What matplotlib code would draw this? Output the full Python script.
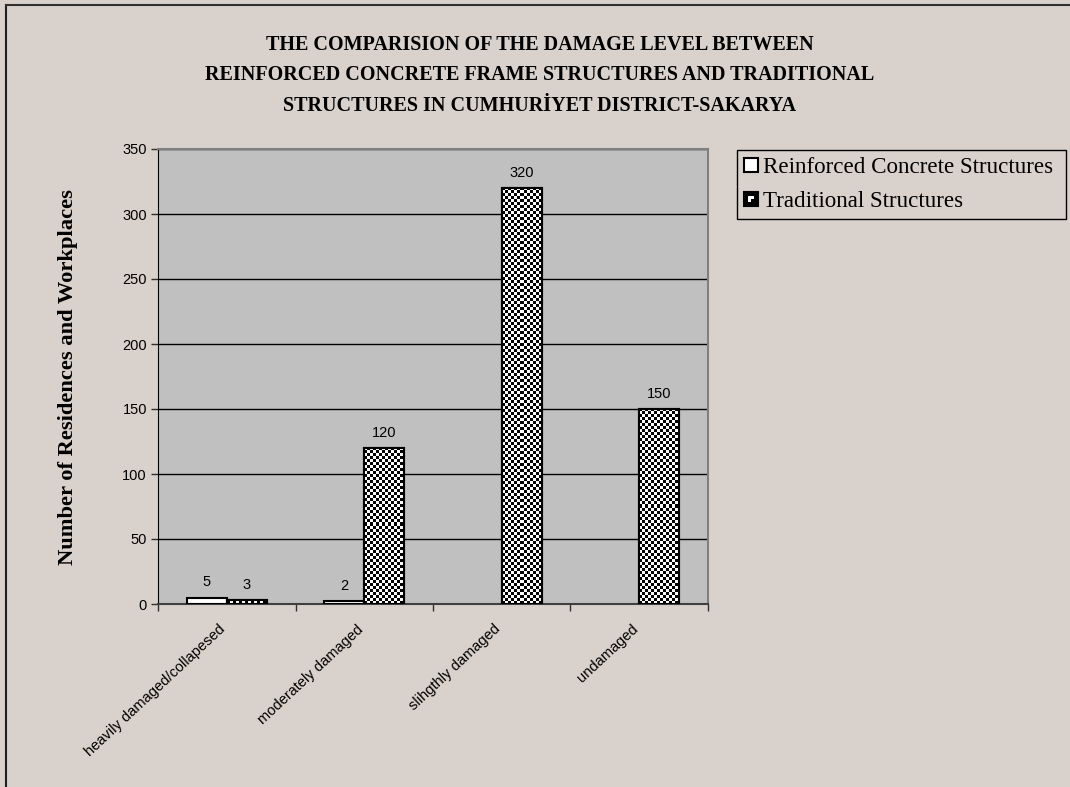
import numpy as np
import matplotlib
matplotlib.use("Agg")
import matplotlib.pyplot as plt
import matplotlib.transforms as mtransforms
from matplotlib.patches import Rectangle
from matplotlib.legend_handler import HandlerPatch
from matplotlib.lines import Line2D

# ---- data ----
categories = ["heavily damaged/collapesed", "moderately damaged",
              "slihgthly damaged", "undamaged"]
reinforced = [5, 2, 0, 0]
traditional = [3, 120, 320, 150]
series_names = ["Reinforced Concrete Structures", "Traditional Structures"]
title = ("THE COMPARISION OF THE DAMAGE LEVEL BETWEEN\n"
         "REINFORCED CONCRETE FRAME STRUCTURES AND TRADITIONAL\n"
         "STRUCTURES IN CUMHURİYET DISTRICT-SAKARYA")
ylabel = "Number of Residences and Workplaces"
yticks = [0, 50, 100, 150, 200, 250, 300, 350]

BG = "#d9d1cb"
PLOT_BG = "#c0c0c0"
W, H, DPI = 1070, 787, 100

fig = plt.figure(figsize=(W / DPI, H / DPI), dpi=DPI, facecolor=BG)

# outer frame lines (top and left)
fig.add_artist(Line2D([6 / W, 6 / W], [0, 1 - 5 / H], transform=fig.transFigure,
                      color="#202020", lw=1.5))
fig.add_artist(Line2D([6 / W, 1], [1 - 5 / H, 1 - 5 / H], transform=fig.transFigure,
                      color="#303030", lw=1.5))

x0, x1, ytop, ybot = 158, 708, 149, 604
ax = fig.add_axes([x0 / W, 1 - ybot / H, (x1 - x0) / W, (ybot - ytop) / H])
ax.set_facecolor(PLOT_BG)
ax.set_xlim(0, len(categories))
ax.set_ylim(0, 350)

sans = ["Liberation Sans", "DejaVu Sans"]
serif = ["Liberation Serif", "DejaVu Serif"]

# grid
ax.set_yticks(yticks)
ax.yaxis.grid(True, color="black", lw=1)
ax.set_axisbelow(True)
ax.tick_params(axis="y", direction="out", length=5, width=1, color="#303030",
               labelsize=10.5, pad=3)
for lab in ax.get_yticklabels():
    lab.set_family(sans)

# x: boundary ticks + centered category labels
ax.set_xticks(np.arange(len(categories) + 1))
ax.set_xticklabels([])
ax.tick_params(axis="x", which="major", direction="out", length=5, width=1,
               color="#303030")
centers = np.arange(len(categories)) + 0.5
ax.set_xticks(centers, minor=True)
ax.set_xticklabels(categories, minor=True, rotation=43, ha="right",
                   rotation_mode="anchor", family=sans, fontsize=10.5)
ax.tick_params(axis="x", which="minor", length=0, pad=13)
shift = mtransforms.ScaledTranslation(-8 / DPI, 0, fig.dpi_scale_trans)
for lab in ax.get_xticklabels(minor=True):
    lab.set_transform(lab.get_transform() + shift)

for side in ["top", "right"]:
    ax.spines[side].set_color("#808080")
    ax.spines[side].set_linewidth(1.5)
ax.spines["left"].set_color("black")
ax.spines["bottom"].set_color("#404040")
ax.spines["bottom"].set_linewidth(1.5)

bw = 40 / 137.5
rc_bars = ax.bar(centers - bw / 2, reinforced, width=bw, color="white",
                 edgecolor="black", lw=1.5, zorder=3)
tr_bars = ax.bar(centers + bw / 2, traditional, width=bw, color="white",
                 edgecolor="black", lw=1.5, zorder=3)
for rect in list(rc_bars) + list(tr_bars):
    if rect.get_height() == 0:
        rect.set_visible(False)


def checker(nx, ny, cell=3.0):
    xs = (np.arange(nx) + 0.5) // cell
    ys = (np.arange(ny) + 0.5) // cell
    return ((xs[None, :] + ys[:, None]) % 2).astype(float)


# checkerboard fill for the traditional structures
fig.canvas.draw()
for rect in tr_bars:
    bx, by = rect.get_x(), rect.get_y()
    bwid, bh = rect.get_width(), rect.get_height()
    if bh <= 0:
        continue
    (px0, py0), (px1, py1) = ax.transData.transform([(bx, by), (bx + bwid, by + bh)])
    nx = max(int(round(px1 - px0)), 1)
    ny = max(int(round(py1 - py0)), 1)
    img = checker(nx, ny)
    im = ax.imshow(img, cmap="gray", vmin=0, vmax=1, interpolation="nearest",
                   extent=(bx, bx + bwid, by, by + bh), origin="lower",
                   aspect="auto", zorder=3.5)
    im.set_clip_path(rect)
    ax.add_patch(Rectangle((bx, by), bwid, bh, fill=False, edgecolor="black",
                           lw=1.5, zorder=4))
ax.set_xlim(0, len(categories))
ax.set_ylim(0, 350)

# value labels
for bars, vals in ((rc_bars, reinforced), (tr_bars, traditional)):
    for rect, v in zip(bars, vals):
        if v == 0:
            continue
        ax.annotate(f"{v}", (rect.get_x() + rect.get_width() / 2, v),
                    xytext=(0, 6), textcoords="offset points", ha="center",
                    va="bottom", family=sans, fontsize=10.5, zorder=5)

# titles
fig.text(540 / W, 1 - 75.5 / H, title, ha="center", va="center", family=serif,
         fontweight="bold", fontsize=14.5, linespacing=1.68)
fig.text(68 / W, 1 - 377 / H, ylabel, ha="center", va="center", rotation=90,
         family=serif, fontweight="bold", fontsize=16.2)


class CheckerHandler(HandlerPatch):
    def create_artists(self, legend, orig_handle, xdescent, ydescent, width,
                       height, fontsize, trans):
        s = min(width, height)
        x = -xdescent
        y = -ydescent + (height - s) / 2
        arts = [Rectangle((x, y), s, s, facecolor="black", edgecolor="black",
                          lw=1.5, transform=trans)]
        q = s / 4
        for (i, j) in [(1, 1), (2, 2), (1, 2)]:
            arts.append(Rectangle((x + i * q, y + j * q), q * 0.9, q * 0.9,
                                  facecolor="white", edgecolor="none",
                                  transform=trans))
        return arts


class PlainHandler(HandlerPatch):
    def create_artists(self, legend, orig_handle, xdescent, ydescent, width,
                       height, fontsize, trans):
        s = min(width, height)
        return [Rectangle((-xdescent, -ydescent + (height - s) / 2), s, s,
                          facecolor="white", edgecolor="black", lw=1.5,
                          transform=trans)]


h_rc = Rectangle((0, 0), 1, 1)
h_tr = Rectangle((0, 0), 1, 1)
leg = fig.legend([h_rc, h_tr], series_names,
                 handler_map={h_rc: PlainHandler(), h_tr: CheckerHandler()},
                 loc="upper left",
                 bbox_to_anchor=(737 / W, 1 - 150 / H - 0.01, (1066 - 737) / W, 0.01),
                 mode="expand", prop={"family": serif, "size": 16.6},
                 frameon=True, fancybox=False, edgecolor="black",
                 facecolor=BG, framealpha=1, handlelength=0.6,
                 handleheight=0.6, handletextpad=0.22, labelspacing=0.55,
                 borderpad=0.32, borderaxespad=0)
leg.get_frame().set_linewidth(1)

fig.savefig("out.png", dpi=DPI, facecolor=BG)
